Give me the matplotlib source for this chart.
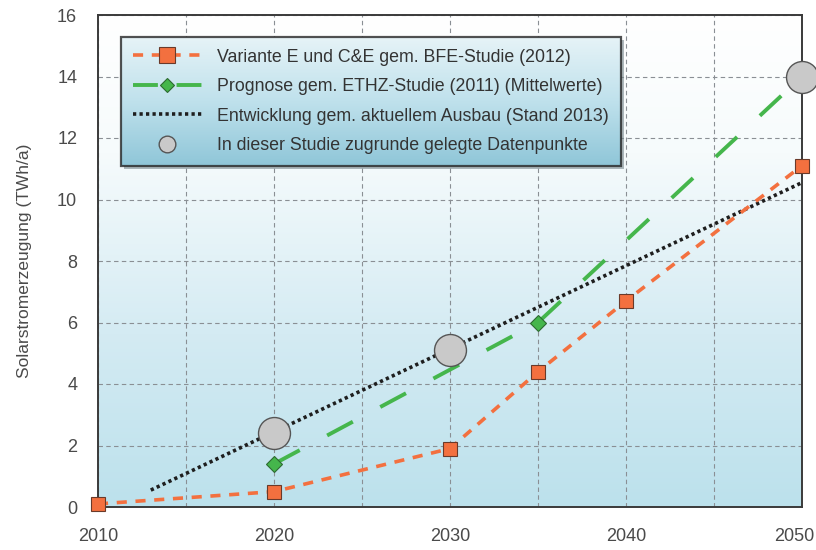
import numpy as np
import matplotlib
matplotlib.use("Agg")
import matplotlib.pyplot as plt
import matplotlib.transforms as mtransforms
from matplotlib.colors import LinearSegmentedColormap
from matplotlib.lines import Line2D
from matplotlib.patches import Rectangle

plt.rcParams['font.family'] = ['Liberation Sans', 'DejaVu Sans']

# ---- data ----
bfe_years = [2010, 2020, 2030, 2035, 2040, 2050]
bfe_values = [0.1, 0.5, 1.9, 4.4, 6.7, 11.1]

ethz_years = [2020, 2035, 2050]
ethz_values = [1.4, 6.0, 14.0]
ethz_marker_idx = [0, 1]

trend_years = [2013, 2050]
trend_values = [0.55, 10.55]

study_years = [2020, 2030, 2050]
study_values = [2.4, 5.1, 14.0]

xtick_vals = [2010, 2015, 2020, 2025, 2030, 2035, 2040, 2045, 2050]
xtick_labels = ["2010", "", "2020", "", "2030", "", "2040", "", "2050"]
ytick_vals = [0, 2, 4, 6, 8, 10, 12, 14, 16]

labels = ["Variante E und C&E gem. BFE-Studie (2012)",
          "Prognose gem. ETHZ-Studie (2011) (Mittelwerte)",
          "Entwicklung gem. aktuellem Ausbau (Stand 2013)",
          "In dieser Studie zugrunde gelegte Datenpunkte"]

orange = "#f3703f"
green = "#45b64c"
text_col = "#4a4a4a"

fig = plt.figure(figsize=(8.16, 5.5), dpi=100)
ax = fig.add_axes([98/816, 43/550, (802-98)/816, (507-15)/550])
ax.set_xlim(2010, 2050)
ax.set_ylim(0, 16)

# background gradient in axes
bg_cmap = LinearSegmentedColormap.from_list("bg", [(0.0, "#bce1ec"), (0.35, "#d4ebf3"), (0.72, "#f6fbfc"), (1.0, "#ffffff")])
grad = np.linspace(0, 1, 256).reshape(-1, 1)
ax.imshow(grad, cmap=bg_cmap, aspect="auto", extent=[0, 1, 0, 1], origin="lower",
          transform=ax.transAxes, zorder=0)

ax.set_xticks(xtick_vals)
ax.set_xticklabels(xtick_labels)
ax.set_yticks(ytick_vals)
ax.tick_params(length=0, labelsize=13, labelcolor=text_col)
ax.tick_params(axis="x", pad=15)
ax.tick_params(axis="y", pad=15)
ax.grid(True, color="#8a8f94", linestyle=(0, (4, 3)), linewidth=0.8, zorder=1)
ax.set_axisbelow(True)
for s in ax.spines.values():
    s.set_color("#3a3a3a")
    s.set_linewidth(1.4)
ax.set_ylabel("Solarstromerzeugung (TWh/a)", fontsize=12.5, color=text_col, labelpad=18)

# shift last x label so it stays inside the figure
last = ax.get_xticklabels()[-1]
last.set_transform(last.get_transform() + mtransforms.ScaledTranslation(-8/100, 0, fig.dpi_scale_trans))

# series
ax.plot(bfe_years, bfe_values, color=orange, linewidth=2.6, dashes=(2.8, 2.4),
        marker="s", markersize=9.5, markerfacecolor=orange, markeredgecolor="#6a3a2a",
        markeredgewidth=0.8, clip_on=False, zorder=4)
ax.plot(ethz_years, ethz_values, color=green, linewidth=2.8, dashes=(7.5, 8),
        marker="D", markersize=8, markevery=ethz_marker_idx, markerfacecolor=green,
        markeredgecolor="#2d6a31", markeredgewidth=0.8, clip_on=False, zorder=3)
ax.plot(trend_years, trend_values, color="#1e1e1e", linewidth=2.6,
        linestyle=(0, (0.9, 0.9)), zorder=3)
ax.plot(study_years, study_values, linestyle="none", marker="o", markersize=23,
        markerfacecolor="#c9c9c9", markeredgecolor="#555555", markeredgewidth=1.0,
        clip_on=False, zorder=5)

handles = [
    Line2D([], [], color=orange, linewidth=2.6, dashes=(2.8, 2.4), marker="s",
           markersize=11, markerfacecolor=orange, markeredgecolor="#6a3a2a", markeredgewidth=0.8),
    Line2D([], [], color=green, linewidth=2.8, dashes=(6.4, 4.8), marker="D", markersize=7,
           markerfacecolor=green, markeredgecolor="#2d6a31", markeredgewidth=0.8),
    Line2D([], [], color="#1e1e1e", linewidth=2.6, linestyle=(0, (0.9, 0.9))),
    Line2D([], [], linestyle="none", marker="o", markersize=12, markerfacecolor="#c9c9c9",
           markeredgecolor="#555555", markeredgewidth=1.0),
]
leg = ax.legend(handles, labels, loc="upper left", bbox_to_anchor=(0.033, 0.955),
                borderaxespad=0, fontsize=12.8, handlelength=3.9, handletextpad=0.85,
                labelspacing=0.7, borderpad=0.65, frameon=True, fancybox=False,
                labelcolor="#333333")
leg.set_zorder(6)
frame = leg.get_frame()
frame.set_facecolor("none")
frame.set_edgecolor("#262626")
frame.set_linewidth(1.6)

fig.canvas.draw()
bb = leg.get_frame().get_window_extent()
inv = ax.transAxes.inverted()
(x0, y0), (x1, y1) = inv.transform([[bb.x0, bb.y0], [bb.x1, bb.y1]])
leg_cmap = LinearSegmentedColormap.from_list("lg", [(0.0, "#8fc6d8"), (0.5, "#bfe1ec"), (1.0, "#e6f3f7")])
ax.imshow(grad, cmap=leg_cmap, aspect="auto", extent=[x0, x1, y0, y1], origin="lower",
          transform=ax.transAxes, zorder=5.5)
dx = 3 / (ax.bbox.width)
dy = 3 / (ax.bbox.height)
ax.add_patch(Rectangle((x0 + dx, y0 - dy), x1 - x0, y1 - y0, transform=ax.transAxes,
                       facecolor="#7a8a90", edgecolor="none", alpha=0.6, zorder=5.4))

fig.savefig("out.png", dpi=100)
